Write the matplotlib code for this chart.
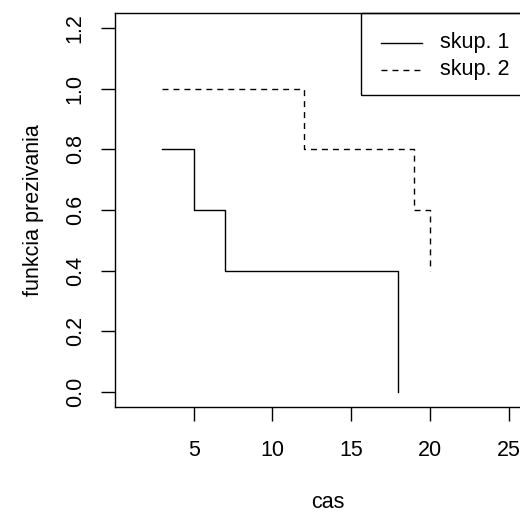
# Krivky prezivania pre dve skupiny (schodovity graf ako v R)
import numpy as np
import matplotlib
matplotlib.use("Agg")
import matplotlib.pyplot as plt
from matplotlib.patches import Rectangle

# data odcitane z obrazku
cas1 = [3, 5, 7, 18]
prez1 = [0.8, 0.6, 0.4, 0.0]
cas2 = [3, 12, 19, 20]
prez2 = [1.0, 0.8, 0.6, 0.4]
skupiny = ["skup. 1", "skup. 2"]
xticks = [5, 10, 15, 20, 25]
yticks = [0.0, 0.2, 0.4, 0.6, 0.8, 1.0, 1.2]

matplotlib.rc('font', family=['Liberation Sans', 'DejaVu Sans'], size=15.5)
matplotlib.rc('lines', scale_dashes=False)

fig = plt.figure(figsize=(5.2, 5.12), dpi=100)
ax = fig.add_axes([0.2212, 0.2057, 0.8173, 0.7684])

dash = (0, (4.3, 3.6))
ax.step(cas1, prez1, where='post', color='black', lw=1.0)
ax.step(cas2, prez2, where='post', color='black', lw=1.0, linestyle=dash)

ax.set_xlim(0, 27)
ax.set_ylim(-0.048, 1.248)
ax.set_xticks(xticks)
ax.set_yticks(yticks)
ax.set_yticklabels(["%.1f" % v for v in yticks], rotation=90, va='center')
ax.tick_params(length=10, width=1.0)
ax.tick_params(axis='x', pad=14)
ax.tick_params(axis='y', pad=11)
for s in ax.spines.values():
    s.set_linewidth(1.0)

ax.set_xlabel("cas", labelpad=22)
ax.set_ylabel("funkcia prezivania", labelpad=15)

# legenda ako v R (topright, ramcek)
leg = Rectangle((0.578, 0.792), 0.5, 0.208, transform=ax.transAxes,
                fill=False, edgecolor='black', lw=1.0, clip_on=False)
ax.add_patch(leg)
styly = ['-', dash]
ly = [0.9245, 0.856]
for i in range(len(skupiny)):
    ax.plot([0.625, 0.723], [ly[i], ly[i]], transform=ax.transAxes,
            color='black', lw=1.0, linestyle=styly[i], clip_on=False)
    ax.text(0.765, ly[i], skupiny[i], transform=ax.transAxes,
            va='center', ha='left')

fig.savefig("out.png", dpi=100)
